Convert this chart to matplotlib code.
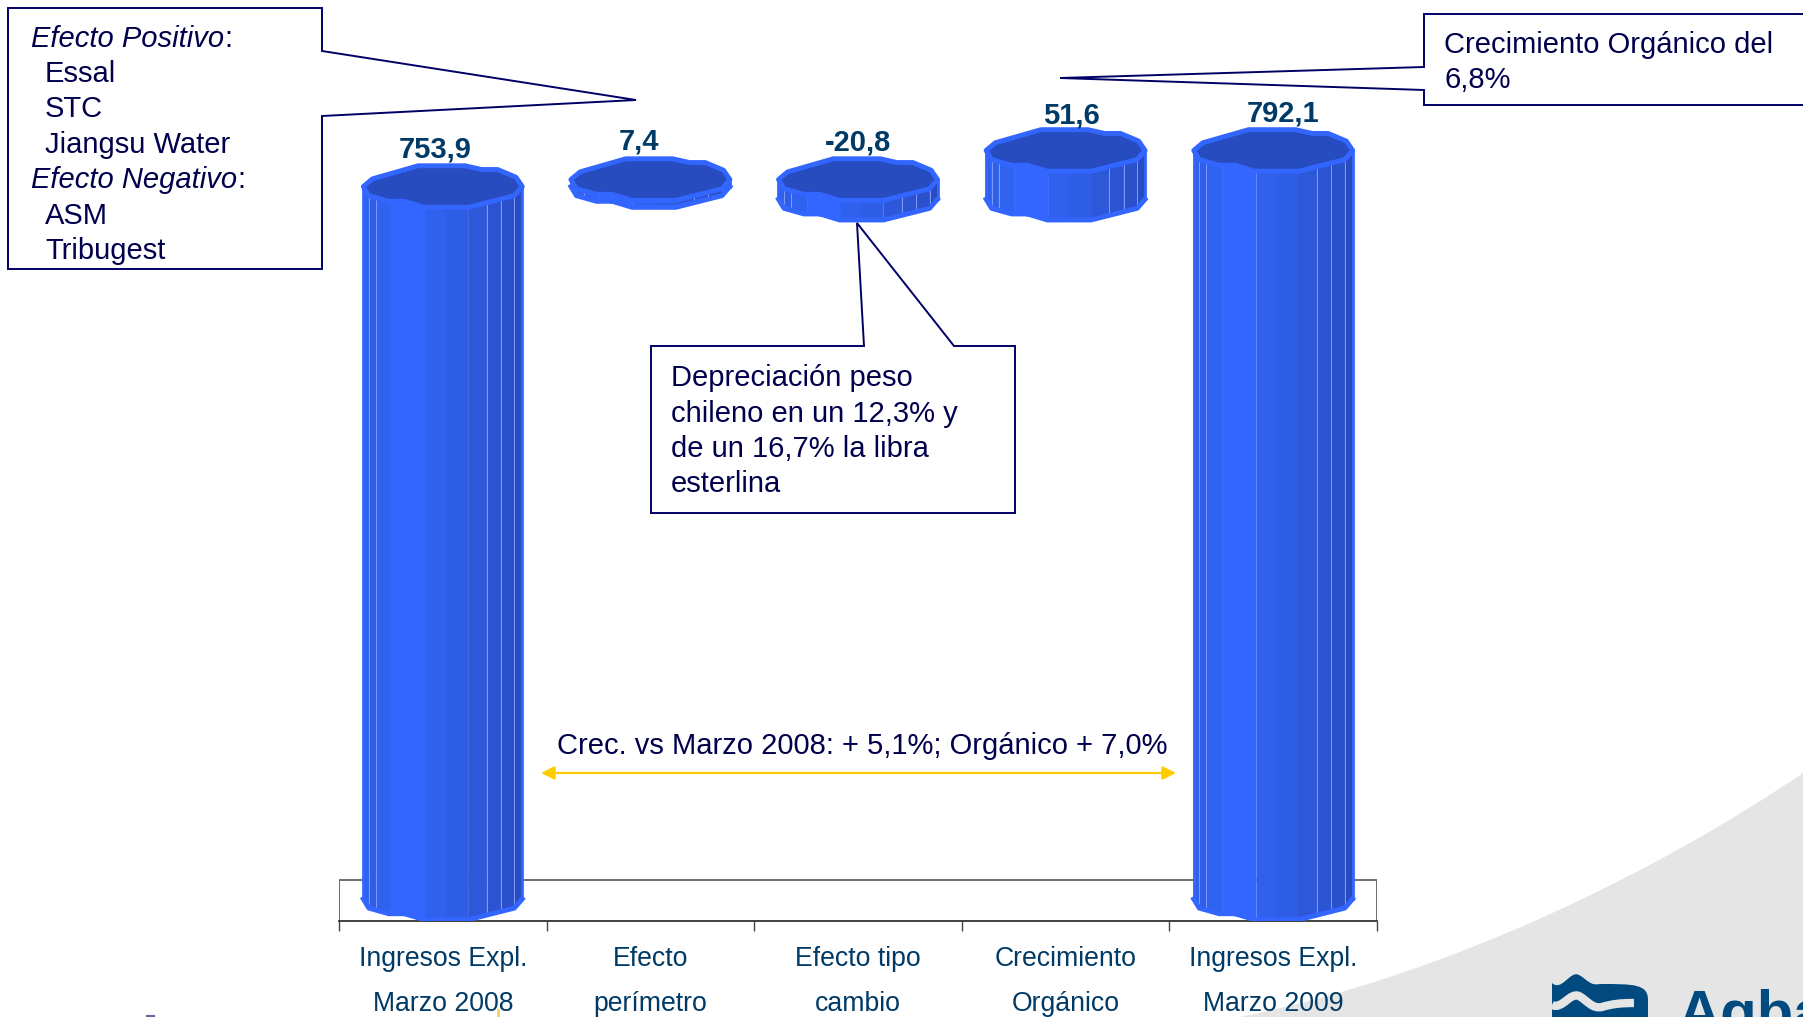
import matplotlib
matplotlib.use('Agg')
import matplotlib.pyplot as plt
import numpy as np
from matplotlib.patches import Polygon, PathPatch
from matplotlib.path import Path

W, H = 1803, 1017
plt.rcParams['font.family'] = ['Liberation Sans', 'DejaVu Sans']

# data
categories = ['Ingresos Expl.\nMarzo 2008', 'Efecto\nperímetro', 'Efecto tipo\ncambio',
              'Crecimiento\nOrgánico', 'Ingresos Expl.\nMarzo 2009']
values = [753.9, 7.4, -20.8, 51.6, 792.1]
bar_bottoms = [0, 753.9, 740.5, 740.5, 0]
bar_tops = [753.9, 761.3, 761.3, 792.1, 792.1]
label_dx = [-8, -11, 0, 6, 10]
label_dy = [37, 38, 37, 35, 37]

NAVY = '#000066'
TXT = '#00004c'
LABEL = '#003a66'
BRIGHT = '#3366ff'
DARK = '#264cc0'
LOGO = '#004a80'
GREY = '#e5e5e5'

fig = plt.figure(figsize=(W / 100, H / 100), dpi=100, facecolor='white')

# background + callouts are drawn in pixel coords
bg = fig.add_axes([0, 0, 1, 1], zorder=0)
bg.set_xlim(0, W)
bg.set_ylim(H, 0)
bg.axis('off')

# value axis is about 0.945 px per unit, zero sits a little above the floor line
ylow = -23.3
ax = fig.add_axes([339 / W, (H - 921) / H, 1038 / W, 921 / H], zorder=1)
ax.patch.set_alpha(0)
ax.set_xlim(-0.5, 4.5)
ax.set_ylim(ylow, ylow + 921 / 0.945)

over = fig.add_axes([0, 0, 1, 1], zorder=2)
over.set_xlim(0, W)
over.set_ylim(H, 0)
over.axis('off')
over.patch.set_alpha(0)

# grey swoosh
swoosh = Path([(1240, 1017), (1450, 975), (1660, 870), (1803, 773), (1803, 1017), (1240, 1017)],
              [Path.MOVETO, Path.CURVE4, Path.CURVE4, Path.CURVE4, Path.LINETO, Path.CLOSEPOLY])
bg.add_patch(PathPatch(swoosh, fc=GREY, ec='none'))

# logo
logo = Path([(1552, 983), (1562, 992), (1570, 970), (1579, 975), (1588, 980), (1590, 986), (1600, 984),
             (1634, 984), (1648, 984), (1648, 1000), (1648, 1017), (1552, 1017), (1552, 983)],
            [Path.MOVETO, Path.CURVE4, Path.CURVE4, Path.CURVE4, Path.CURVE4, Path.CURVE4, Path.LINETO,
             Path.CURVE4, Path.CURVE4, Path.CURVE4, Path.LINETO, Path.LINETO, Path.CLOSEPOLY])
bg.add_patch(PathPatch(logo, fc=LOGO, ec='none'))
wave = Path([(1552, 1005), (1562, 1010), (1570, 992), (1579, 996), (1588, 1001), (1592, 1009), (1602, 1007),
             (1612, 1004), (1620, 1003), (1634, 1003)],
            [Path.MOVETO, Path.CURVE4, Path.CURVE4, Path.CURVE4, Path.CURVE4, Path.CURVE4, Path.CURVE4,
             Path.CURVE4, Path.CURVE4, Path.CURVE4])
bg.add_patch(PathPatch(wave, fc='none', ec=GREY, lw=6))
bg.text(1678, 1032, 'Agbar', fontsize=43, fontweight='bold', color=LOGO, ha='left', va='baseline')

# tiny cut-off marks at bottom
bg.plot([498, 498], [1010, 1017], color='#ffcc66', lw=2)
bg.plot([147, 154], [1016, 1016], color='#7060a0', lw=1.5)

# wall and axis
wall_top = ylow + 41 / 0.945
ax.plot([-0.5, -0.5, 4.5, 4.5], [ylow, wall_top, wall_top, ylow], color='#555555', lw=1.2, zorder=1)
for s in ['top', 'left', 'right']:
    ax.spines[s].set_visible(False)
ax.spines['bottom'].set_color('#333333')
ax.spines['bottom'].set_linewidth(1.3)
ax.spines['bottom'].set_zorder(1)
ax.set_yticks([])
ax.set_xticks(range(5))
ax.set_xticklabels(categories, fontsize=19.2, color=LABEL, linespacing=1.93)
ax.tick_params(axis='x', which='major', length=0, pad=18)
ax.set_xticks(np.arange(-0.5, 5, 1), minor=True)
ax.tick_params(axis='x', which='minor', length=7.5, width=1, color='#444444')

# cylinder sprite (x in half widths, y in half heights)
half_w = 0.383
half_h = 22
rim_x = np.array([-1, -.885, -.31, .28, .49, .69, .92, 1, .9, .32, -.23, -.48, -.68, -.93])
rim_y = np.array([0, .37, 1, 1, .82, .82, .45, 0, -.44, -1, -1, -.71, -.71, -.44])
front_x = np.array([-1, -.93, -.68, -.48, -.23, .32, .9, 1])
front_y = np.array([0, -.44, -.71, -.71, -1, -1, -.44, 0])
face_x = np.array([-1, -.93, -.84, -.64, -.21, .04, .32, .55, .73, .9, 1])
face_col = ['#3060ee', '#2f5ee8', '#3062f0', BRIGHT, '#3060ee', '#2f5ee6', '#2d58da', '#2c54d2', '#2a50ca', '#284cc0']
seam_x = [-.93, -.84, .55, .73, .9]


def cylinder(ax, c, bottom, top):
    for i in range(len(face_col)):
        xs = face_x[i:i + 2]
        ys = np.interp(xs, front_x, front_y) * half_h
        pts = [(c + xs[0] * half_w, top + ys[0]), (c + xs[1] * half_w, top + ys[1]),
               (c + xs[1] * half_w, bottom + ys[1]), (c + xs[0] * half_w, bottom + ys[0])]
        ax.add_patch(Polygon(pts, fc=face_col[i], ec=face_col[i], lw=0.3, zorder=3))
    for sx in seam_x:
        yo = np.interp(sx, front_x, front_y) * half_h
        ax.plot([c + sx * half_w] * 2, [bottom + yo, top + yo], color='#7f9bff', lw=0.7, zorder=3.5)
    # bright outline of the lower rim and the sides
    ax.plot(c + front_x * half_w, bottom + front_y * half_h, color=BRIGHT, lw=3.5, zorder=4, solid_joinstyle='round')
    ax.plot([c - half_w, c - half_w], [bottom, top], color=BRIGHT, lw=2, zorder=4)
    ax.plot([c + half_w, c + half_w], [bottom, top], color=BRIGHT, lw=2, zorder=4)
    ax.add_patch(Polygon(np.column_stack([c + rim_x * half_w, top + rim_y * half_h]),
                         fc=DARK, ec=BRIGHT, lw=3.5, zorder=5, joinstyle='round'))


for c in range(len(values)):
    cylinder(ax, c, bar_bottoms[c], bar_tops[c])
    ax.annotate(f'{values[c]:.1f}'.replace('.', ','), xy=(c, bar_tops[c]),
                xytext=(label_dx[c], label_dy[c]), textcoords='offset pixels',
                ha='center', va='center', fontsize=21, fontweight='bold', color=LABEL, zorder=6)


def callout(pts):
    over.add_patch(Polygon(pts, closed=True, fc='white', ec=NAVY, lw=1.4, zorder=2, clip_on=False))


callout([(8, 8), (322, 8), (322, 51), (636, 100), (322, 116), (322, 269), (8, 269)])
callout([(1424, 14), (1806, 14), (1806, 105), (1424, 105), (1424, 90), (1060, 78), (1424, 67)])
callout([(651, 346), (864, 346), (857, 223), (954, 346), (1015, 346), (1015, 513), (651, 513)])

FS = 21
box1 = [('Efecto Positivo', 31, 39, 'italic'), ('Essal', 45, 74, 'normal'), ('STC', 45, 109, 'normal'),
        ('Jiangsu Water', 45, 145, 'normal'), ('Efecto Negativo', 31, 180, 'italic'),
        ('ASM', 45, 216, 'normal'), ('Tribugest', 45, 251, 'normal')]
for s, x, y, st in box1:
    t = over.text(x, y, s, fontsize=FS, style=st, color=TXT, va='center', ha='left', zorder=3)
    if st == 'italic':
        over.annotate(':', xy=(1, 0.5), xycoords=t, fontsize=FS, color=TXT, va='center', ha='left', zorder=3)

for s, y in zip(['Crecimiento Orgánico del', '6,8%'], [45, 80]):
    over.text(1444, y, s, fontsize=FS, color=TXT, va='center', ha='left', zorder=3)
for s, y in zip(['Depreciación peso', 'chileno en un 12,3% y', 'de un 16,7% la libra', 'esterlina'],
                [378, 414, 449, 484]):
    over.text(671, y, s, fontsize=FS, color=TXT, va='center', ha='left', zorder=3)

over.text(862, 746, 'Crec. vs Marzo 2008: + 5,1%; Orgánico + 7,0%', fontsize=FS, color=TXT,
          ha='center', va='center', zorder=3)
over.annotate('', xy=(541, 773), xytext=(1176, 773),
              arrowprops=dict(arrowstyle='<|-|>', color='#ffcc00', lw=1.6, mutation_scale=20,
                              shrinkA=0, shrinkB=0), zorder=3)

fig.savefig('out.png', dpi=100)
